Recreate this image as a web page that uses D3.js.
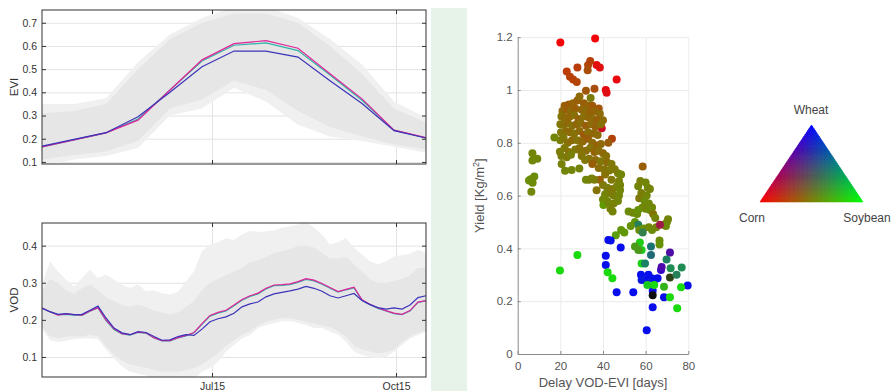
<!DOCTYPE html>
<html>
<head>
<meta charset="utf-8">
<script src="https://cdn.jsdelivr.net/npm/d3@7"></script>
<style>
  body { margin: 0; background: #fff; }
  svg { display: block; font-family: "Liberation Sans", Arial, sans-serif; }
</style>
</head>
<body>
<svg id="chart" width="893" height="391"></svg>
<script>
// ---- time axis ----
const startDate = new Date(Date.UTC(2015, 3, 21));
const endDate = new Date(Date.UTC(2015, 9, 30));
const tickDates = [new Date(Date.UTC(2015, 6, 15)), new Date(Date.UTC(2015, 9, 15))];
const tickLabels = ['Jul15', 'Oct15'];
const eviStepDays = 16;
const vodStepDays = 4;

// ---- EVI (16-day composites) ----
const eviTicks = [0.1, 0.2, 0.3, 0.4, 0.5, 0.6, 0.7];
const eviOuterHi = [0.35, 0.35, 0.375, 0.53, 0.65, 0.72, 0.77, 0.77, 0.72, 0.63, 0.52, 0.36, 0.29];
const eviOuterLo = [0.08, 0.11, 0.125, 0.16, 0.30, 0.33, 0.42, 0.36, 0.26, 0.21, 0.19, 0.165, 0.14];
const eviInnerHi = [0.31, 0.32, 0.35, 0.50, 0.63, 0.70, 0.74, 0.74, 0.70, 0.60, 0.48, 0.33, 0.27];
const eviInnerLo = [0.11, 0.13, 0.145, 0.19, 0.33, 0.37, 0.45, 0.41, 0.32, 0.25, 0.21, 0.175, 0.155];
const eviTeal    = [0.165, 0.195, 0.225, 0.285, 0.41, 0.535, 0.603, 0.613, 0.58, 0.475, 0.366, 0.237, 0.203];
const eviMagenta = [0.165, 0.195, 0.225, 0.28, 0.41, 0.54, 0.61, 0.623, 0.59, 0.48, 0.372, 0.237, 0.205];
const eviBlue    = [0.168, 0.197, 0.226, 0.295, 0.40, 0.51, 0.578, 0.578, 0.552, 0.45, 0.352, 0.235, 0.203];

// ---- VOD (every 4 days) ----
const vodTicks = [0.1, 0.2, 0.3, 0.4];
const vodOuterHi = [0.295, 0.358, 0.33, 0.308, 0.29, 0.313, 0.335, 0.313, 0.322, 0.308,
  0.295, 0.286, 0.295, 0.277, 0.28, 0.272, 0.268, 0.276, 0.304, 0.33,
  0.385, 0.403, 0.41, 0.42, 0.415, 0.43, 0.44, 0.437, 0.439, 0.441,
  0.448, 0.452, 0.457, 0.465, 0.448, 0.43, 0.403, 0.41, 0.42, 0.394,
  0.376, 0.358, 0.35, 0.358, 0.371, 0.375, 0.378, 0.389, 0.38];
const vodOuterLo = [0.175, 0.145, 0.14, 0.143, 0.148, 0.15, 0.15, 0.148, 0.12, 0.095,
  0.075, 0.06, 0.055, 0.05, 0.04, 0.04, 0.04, 0.04, 0.045, 0.04,
  0.06, 0.07, 0.087, 0.114, 0.132, 0.15, 0.159, 0.178, 0.186, 0.19,
  0.196, 0.196, 0.192, 0.186, 0.178, 0.178, 0.168, 0.16, 0.141, 0.114,
  0.105, 0.1, 0.096, 0.1, 0.114, 0.132, 0.15, 0.159, 0.168];
const vodInnerHi = [0.28, 0.31, 0.3, 0.28, 0.27, 0.285, 0.295, 0.28, 0.26, 0.25,
  0.24, 0.235, 0.24, 0.235, 0.225, 0.22, 0.215, 0.22, 0.235, 0.25,
  0.28, 0.30, 0.31, 0.32, 0.33, 0.34, 0.355, 0.36, 0.37, 0.38,
  0.385, 0.39, 0.40, 0.40, 0.395, 0.38, 0.365, 0.365, 0.37, 0.35,
  0.33, 0.31, 0.30, 0.30, 0.305, 0.31, 0.32, 0.34, 0.34];
const vodInnerLo = [0.18, 0.155, 0.15, 0.155, 0.155, 0.155, 0.16, 0.155, 0.13, 0.105,
  0.09, 0.08, 0.075, 0.07, 0.065, 0.06, 0.06, 0.06, 0.065, 0.07,
  0.08, 0.095, 0.11, 0.13, 0.145, 0.16, 0.17, 0.185, 0.195, 0.2,
  0.205, 0.205, 0.2, 0.195, 0.19, 0.185, 0.18, 0.17, 0.155, 0.13,
  0.12, 0.115, 0.11, 0.113, 0.12, 0.14, 0.155, 0.165, 0.17];
const vodTeal = [0.231, 0.221, 0.214, 0.215, 0.213, 0.212, 0.223, 0.232, 0.198, 0.174,
  0.162, 0.159, 0.166, 0.164, 0.151, 0.143, 0.143, 0.151, 0.157, 0.165,
  0.188, 0.210, 0.218, 0.224, 0.238, 0.253, 0.263, 0.270, 0.283, 0.292,
  0.293, 0.295, 0.301, 0.309, 0.305, 0.296, 0.285, 0.275, 0.281, 0.286,
  0.253, 0.241, 0.231, 0.224, 0.217, 0.214, 0.224, 0.247, 0.251];
const vodMagenta = [0.232, 0.222, 0.213, 0.216, 0.214, 0.213, 0.224, 0.233, 0.200, 0.176,
  0.163, 0.160, 0.167, 0.165, 0.152, 0.144, 0.144, 0.152, 0.158, 0.166,
  0.190, 0.212, 0.220, 0.226, 0.240, 0.255, 0.265, 0.272, 0.285, 0.294,
  0.295, 0.297, 0.303, 0.311, 0.307, 0.298, 0.287, 0.276, 0.282, 0.288,
  0.254, 0.242, 0.232, 0.225, 0.218, 0.215, 0.225, 0.248, 0.252];
const vodBlue = [0.232, 0.222, 0.215, 0.217, 0.214, 0.215, 0.226, 0.237, 0.205, 0.178,
  0.165, 0.160, 0.168, 0.166, 0.155, 0.145, 0.146, 0.155, 0.160, 0.158,
  0.175, 0.195, 0.203, 0.208, 0.218, 0.235, 0.243, 0.248, 0.262, 0.270,
  0.274, 0.278, 0.283, 0.290, 0.285, 0.277, 0.265, 0.259, 0.265, 0.271,
  0.252, 0.241, 0.233, 0.229, 0.232, 0.229, 0.240, 0.260, 0.265];

// ---- scatter: delay (days), yield (kg/m2), corn, soybean, [wheat] shares ----
const delayTicks = [0, 20, 40, 60, 80];
const yieldTicks = [0, 0.2, 0.4, 0.6, 0.8, 1, 1.2];
const fields = [
  [20, 1.18, .95, .02, .03], [36.3, 1.195, .95, .02, .03], [37, 1.095, .9, .05], [38.5, 1.085, .88, .06],
  [33, 1.095, .68, .28], [34, 1.11, .7, .26], [32.8, 1.075, .66, .3], [28, 1.085, .72, .24],
  [23, 1.07, .74, .23], [24.5, 1.05, .72, .25], [26, 1.04, .72, .25], [27.7, 1.03, .7, .27],
  [46.4, 1.04, .92, .03], [41.3, 1.0, .9, .04], [41.7, 0.99, .88, .05], [36, 1.005, .66, .3],
  [32, 0.997, .62, .34], [34.2, 0.97, .48, .48], [39.4, 0.855, .8, .05], [44.2, 0.815, .7, .26], [42.5, 0.80, .6, .36],
  [6.9, 0.76, .45, .52], [9.2, 0.74, .45, .52], [6.9, 0.733, .44, .53], [7.8, 0.672, .42, .55],
  [6.1, 0.662, .42, .55], [7, 0.649, .43, .54], [5.3, 0.657, .42, .55], [6.4, 0.615, .44, .53],
  [22, 0.94, .6, .37], [24, 0.945, .62, .35], [26, 0.95, .58, .4], [28, 0.96, .6, .37], [29, 0.975, .56, .42],
  [31, 0.95, .6, .37], [33, 0.94, .58, .39], [35, 0.94, .62, .35], [38, 0.93, .64, .33],
  [21, 0.92, .56, .41], [23, 0.925, .6, .37], [25, 0.92, .55, .42], [27, 0.93, .6, .37], [30, 0.925, .57, .4],
  [32, 0.92, .55, .42], [34, 0.915, .6, .37], [36, 0.92, .58, .39], [38.5, 0.91, .55, .42],
  [20.5, 0.9, .52, .46], [22, 0.895, .55, .42], [24.5, 0.9, .57, .4], [26.5, 0.905, .53, .44], [28.5, 0.89, .58, .39],
  [31, 0.9, .54, .43], [33.5, 0.895, .57, .4], [35.5, 0.89, .55, .42], [37.5, 0.885, .6, .37], [40, 0.885, .55, .42],
  [20, 0.87, .5, .47], [21.5, 0.87, .53, .44], [23.5, 0.875, .56, .41], [25.5, 0.865, .52, .45], [27.5, 0.87, .57, .4],
  [29.5, 0.875, .54, .43], [32, 0.865, .6, .36], [34.5, 0.87, .55, .42], [36.5, 0.86, .58, .38], [39, 0.87, .53, .44],
  [20.3, 0.84, .5, .47], [22.5, 0.845, .54, .43], [24.5, 0.84, .56, .41], [26.5, 0.835, .52, .45], [29, 0.845, .55, .42],
  [31, 0.83, .62, .35], [33, 0.84, .53, .44], [35.5, 0.835, .56, .41], [37.5, 0.83, .55, .42],
  [20, 0.81, .48, .49], [21.5, 0.82, .5, .47], [23.5, 0.8, .53, .44], [25.5, 0.81, .55, .42], [28, 0.81, .52, .45],
  [30.5, 0.805, .56, .41], [33, 0.815, .6, .36], [35, 0.8, .55, .42], [37, 0.79, .58, .39], [39, 0.795, .56, .41],
  [22, 0.78, .5, .47], [24, 0.765, .52, .45], [27, 0.775, .5, .47], [29, 0.78, .53, .44], [32, 0.77, .55, .42],
  [34, 0.78, .52, .45], [36, 0.765, .58, .39], [38, 0.77, .54, .43], [40, 0.76, .56, .41], [41.5, 0.75, .53, .44],
  [20.5, 0.75, .48, .49], [23, 0.745, .5, .47], [25, 0.755, .47, .5], [30, 0.75, .5, .47], [33.5, 0.74, .52, .45],
  [36.5, 0.735, .55, .42], [39, 0.73, .5, .47], [42, 0.725, .55, .42], [44, 0.72, .5, .47],
  [35, 0.72, .6, .37], [38, 0.705, .54, .43], [40.5, 0.7, .52, .45], [43, 0.695, .5, .47], [45.5, 0.7, .5, .47],
  [47, 0.685, .48, .49], [41, 0.68, .52, .45], [44, 0.66, .5, .47], [38.5, 0.66, .6, .37], [36, 0.66, .5, .47], [33.5, 0.66, .47, .5],
  [40, 0.64, .5, .47], [42, 0.63, .48, .49], [44.5, 0.625, .5, .47], [46.5, 0.635, .47, .5], [48, 0.62, .45, .52],
  [43, 0.61, .5, .47], [41, 0.605, .46, .51], [45, 0.6, .48, .49], [47.5, 0.6, .45, .52], [42, 0.58, .45, .52],
  [45, 0.57, .47, .5], [47, 0.58, .45, .52], [43.5, 0.55, .48, .49], [44.5, 0.54, .46, .51], [40, 0.585, .44, .53],
  [48.5, 0.68, .45, .52], [47.5, 0.655, .47, .5], [48, 0.64, .46, .51],
  [17.2, 0.82, .45, .52], [19.8, 0.766, .48, .49], [20.6, 0.72, .47, .5], [22.2, 0.694, .45, .52], [25.3, 0.697, .45, .52],
  [28.9, 0.703, .46, .51], [31.6, 0.735, .5, .47], [30, 0.76, .52, .45], [32, 0.66, .45, .52], [34.7, 0.665, .47, .5],
  [37, 0.62, .52, .45], [40.2, 0.564, .38, .6], [42.5, 0.573, .45, .52],
  [52, 0.54, .42, .55], [54, 0.535, .44, .53], [56, 0.53, .42, .55], [57, 0.59, .5, .47], [58, 0.61, .48, .49],
  [56.5, 0.635, .45, .52], [57.5, 0.655, .47, .5], [58.6, 0.71, .6, .37], [60, 0.65, .45, .52], [61, 0.63, .44, .53],
  [62, 0.625, .46, .51], [60.5, 0.6, .45, .52], [59.5, 0.58, .42, .55], [61.5, 0.57, .44, .53], [63, 0.555, .45, .52],
  [62, 0.545, .42, .55], [63.5, 0.53, .52, .45], [64.5, 0.515, .45, .52], [60, 0.55, .43, .54], [58.5, 0.555, .45, .52],
  [56.5, 0.545, .4, .57], [55, 0.5, .38, .59], [56.5, 0.49, .15, .5, .35], [53, 0.485, .4, .57], [50, 0.46, .38, .6],
  [46, 0.45, .36, .62], [48.5, 0.47, .38, .59], [57, 0.47, .42, .55], [59, 0.475, .4, .57], [61.5, 0.48, .44, .53],
  [63, 0.47, .42, .55], [65, 0.48, .45, .52], [66.5, 0.43, .42, .55], [66.5, 0.415, .4, .57], [68.5, 0.49, .45, .52],
  [70, 0.5, .43, .54], [70.5, 0.51, .45, .52], [69.5, 0.485, .42, .55], [66.7, 0.49, .62, .1, .28],
  [58.6, 0.46, .2, .5, .3], [62.5, 0.407, .1, .45, .45], [62.5, 0.375, .12, .42, .46], [58.1, 0.394, .1, .8, .1],
  [57.3, 0.422, .12, .8, .08], [56.6, 0.394, .3, .6, .1], [55, 0.407, .3, .6, .1], [58.1, 0.343, .1, .82, .08],
  [59.7, 0.343, .1, .5, .4], [71.4, 0.384, .3, .05, .65],
  [42.5, 0.432, .03, .05, .92], [43.6, 0.43, .03, .05, .92], [48.3, 0.403, .03, .05, .92], [41.3, 0.372, .03, .05, .92],
  [41.3, 0.337, .03, .05, .92], [46.4, 0.234, .03, .05, .92], [54.2, 0.234, .03, .05, .92], [57.8, 0.30, .03, .05, .92],
  [58.1, 0.28, .03, .08, .89], [59.7, 0.28, .03, .1, .87], [61.3, 0.287, .03, .05, .92], [62.8, 0.287, .05, .1, .85],
  [64.4, 0.283, .03, .05, .92], [65.6, 0.287, .03, .05, .92], [63.3, 0.24, .03, .05, .92], [63.3, 0.177, .03, .05, .92],
  [68.6, 0.215, .03, .05, .92], [60.5, 0.09, .03, .05, .92], [79.7, 0.259, .03, .05, .92], [61.3, 0.3, .03, .05, .92],
  [67.2, 0.318, .2, .02, .78], [67.5, 0.33, .3, .03, .67],
  [63.3, 0.223, .05, .05, .05], [71.4, 0.29, .18, .25, .08],
  [19.8, 0.316, .1, .85, .05], [28, 0.375, .1, .85, .05], [42.2, 0.31, .1, .85, .05], [44.4, 0.287, .1, .85, .05],
  [64, 0.261, .1, .85, .05], [71.4, 0.215, .1, .85, .05], [76.6, 0.253, .1, .85, .05], [74.8, 0.173, .1, .85, .05],
  [60.8, 0.261, .1, .8, .1], [68.6, 0.255, .2, .7, .1],
  [69.8, 0.358, .12, .5, .38], [71.7, 0.325, .12, .55, .33], [76.9, 0.328, .12, .55, .33], [74.5, 0.3, .15, .5, .35]
];

// ---- triangle legend labels ----
const cropNames = ['Corn', 'Soybean', 'Wheat'];

const svg = d3.select('#chart');
const textColor = '#333';

// light green separator strip
svg.append('rect')
  .attr('x', 431).attr('y', 8).attr('width', 36).attr('height', 383)
  .attr('fill', '#e7f2e9');

function dateSeries(n, step) {
  return d3.range(n).map(i => d3.utcDay.offset(startDate, i * step));
}

function drawPanel(o) {
  const left = 42, right = 426;
  const x = d3.scaleUtc().domain([startDate, endDate]).range([left, right]);
  const y = d3.scaleLinear().domain(o.yDomain).range([o.bottom, o.top]);
  const h = o.bottom - o.top;
  const g = svg.append('g');

  svg.append('clipPath').attr('id', 'clip-' + o.name)
    .append('rect').attr('x', left).attr('y', o.top).attr('width', right - left).attr('height', h);

  // grid
  g.append('g')
    .attr('transform', `translate(${left},0)`)
    .call(d3.axisLeft(y).tickValues(o.yTicks).tickSize(-(right - left)).tickFormat(''))
    .call(a => a.select('.domain').remove())
    .selectAll('line').attr('stroke', '#e3e3e3');
  g.append('g')
    .attr('transform', `translate(0,${o.bottom})`)
    .call(d3.axisBottom(x).tickValues(tickDates).tickSize(-h).tickFormat(''))
    .call(a => a.select('.domain').remove())
    .selectAll('line').attr('stroke', '#e3e3e3');

  const plot = g.append('g').attr('clip-path', `url(#clip-${o.name})`);
  const dates = o.dates;
  const band = (hi, lo) => d3.area()
    .x((d, i) => x(dates[i]))
    .y0((d, i) => y(lo[i]))
    .y1((d, i) => y(hi[i]))(hi);

  plot.append('path').attr('d', band(o.outerHi, o.outerLo)).attr('fill', '#f0f0f0');
  plot.append('path').attr('d', band(o.innerHi, o.innerLo)).attr('fill', '#e6e6e6');

  const line = d3.line().x((d, i) => x(dates[i])).y(d => y(d));
  o.series.forEach(s => {
    plot.append('path').attr('d', line(s.values))
      .attr('fill', 'none').attr('stroke', s.color).attr('stroke-width', 1.2);
  });

  // ticks
  const tickStyle = sel => {
    sel.select('.domain').remove();
    sel.selectAll('line').attr('stroke', '#333');
    sel.selectAll('text').attr('fill', textColor).style('font-size', '10.5px').attr('font-family', null);
  };
  g.append('g').attr('transform', `translate(${left},0)`)
    .call(d3.axisLeft(y).tickValues(o.yTicks).tickSize(-4).tickPadding(5).tickFormat(d3.format('.1f')))
    .call(tickStyle);
  g.append('g').attr('transform', `translate(${right},0)`)
    .call(d3.axisRight(y).tickValues(o.yTicks).tickSize(-4).tickFormat(''))
    .call(tickStyle);
  g.append('g').attr('transform', `translate(0,${o.bottom})`)
    .call(d3.axisBottom(x).tickValues(tickDates).tickSize(-4).tickPadding(6)
      .tickFormat((d, i) => o.xLabels ? tickLabels[i] : ''))
    .call(tickStyle);
  g.append('g').attr('transform', `translate(0,${o.top})`)
    .call(d3.axisTop(x).tickValues(tickDates).tickSize(-4).tickFormat(''))
    .call(tickStyle);

  g.append('rect')
    .attr('x', left).attr('y', o.top).attr('width', right - left).attr('height', h)
    .attr('fill', 'none').attr('stroke', '#333').attr('stroke-width', 1);

  g.append('text')
    .attr('transform', `translate(18,${(o.top + o.bottom) / 2}) rotate(-90)`)
    .attr('text-anchor', 'middle')
    .attr('fill', textColor).style('font-size', '11.5px')
    .text(o.label);
}

drawPanel({
  name: 'evi', label: 'EVI', top: 10, bottom: 164, yDomain: [0.091, 0.755], yTicks: eviTicks,
  dates: dateSeries(eviMagenta.length, eviStepDays), xLabels: false,
  outerHi: eviOuterHi, outerLo: eviOuterLo, innerHi: eviInnerHi, innerLo: eviInnerLo,
  series: [
    { values: eviTeal, color: '#2db3a6' },
    { values: eviMagenta, color: '#e2249a' },
    { values: eviBlue, color: '#3c34b8' }
  ]
});

drawPanel({
  name: 'vod', label: 'VOD', top: 223, bottom: 377, yDomain: [0.046, 0.461], yTicks: vodTicks,
  dates: dateSeries(vodMagenta.length, vodStepDays), xLabels: true,
  outerHi: vodOuterHi, outerLo: vodOuterLo, innerHi: vodInnerHi, innerLo: vodInnerLo,
  series: [
    { values: vodTeal, color: '#2db3a6' },
    { values: vodMagenta, color: '#e2249a' },
    { values: vodBlue, color: '#3c34b8' }
  ]
});

// ---- scatter ----
const sx = d3.scaleLinear().domain([0, 80]).range([517.7, 688.3]);
const sy = d3.scaleLinear().domain([0, 1.2]).range([354, 37.2]);
const shareColor = (c, s, w) => d3.rgb(255 * c, 255 * s, 255 * w).toString();

const sg = svg.append('g');
sg.append('g').attr('transform', `translate(${sx(0)},0)`)
  .call(d3.axisLeft(sy).tickValues(yieldTicks.slice(1)).tickSize(-(sx(80) - sx(0))).tickFormat(''))
  .call(a => a.select('.domain').remove())
  .selectAll('line').attr('stroke', '#ebebeb');
sg.append('g').attr('transform', `translate(0,${sy(0)})`)
  .call(d3.axisBottom(sx).tickValues(delayTicks.slice(1)).tickSize(-(sy(0) - sy(1.2))).tickFormat(''))
  .call(a => a.select('.domain').remove())
  .selectAll('line').attr('stroke', '#ebebeb');

sg.selectAll('circle.field')
  .data(fields)
  .enter()
  .append('circle')
  .attr('class', 'field')
  .attr('cx', d => sx(d[0]))
  .attr('cy', d => sy(d[1]))
  .attr('r', 4)
  .attr('fill', d => shareColor(d[2], d[3], d[4] ?? Math.max(0, 1 - d[2] - d[3])));

const scatterAxis = sel => {
  sel.select('.domain').attr('stroke', '#8a8a8a');
  sel.selectAll('line').attr('stroke', '#8a8a8a');
  sel.selectAll('text').attr('fill', '#555').style('font-size', '11.5px').attr('font-family', null);
};
sg.append('g').attr('transform', `translate(${sx(0)},0)`)
  .call(d3.axisLeft(sy).tickValues(yieldTicks).tickSize(-3).tickSizeOuter(0).tickPadding(5).tickFormat(d => String(d)))
  .call(scatterAxis);
sg.append('g').attr('transform', `translate(0,${sy(0)})`)
  .call(d3.axisBottom(sx).tickValues(delayTicks).tickSize(-3).tickSizeOuter(0).tickPadding(8))
  .call(scatterAxis);

sg.append('text')
  .attr('x', (sx(0) + sx(80)) / 2).attr('y', 387)
  .attr('text-anchor', 'middle').attr('fill', '#555').style('font-size', '13px')
  .text('Delay VOD-EVI [days]');
const yl = sg.append('text')
  .attr('transform', `translate(484,${(sy(0) + sy(1.2)) / 2}) rotate(-90)`)
  .attr('text-anchor', 'middle').attr('fill', '#555').style('font-size', '13px');
yl.append('tspan').text('Yield [Kg/m');
yl.append('tspan').attr('dy', -5).style('font-size', '9px').text('2');
yl.append('tspan').attr('dy', 5).text(']');

// ---- ternary colour legend ----
const lx = d3.scaleLinear().domain([0, 1]).range([760, 863]);
const ly = d3.scaleLinear().domain([0, 1]).range([202, 125]);
const pt = (s, w) => [lx(s + w / 2), ly(w)];
const nSub = 40;
const tris = [];
for (let a = 0; a < nSub; a++) {
  for (let b = 0; a + b < nSub; b++) {
    tris.push([[a, b], [a + 1, b], [a, b + 1]]);
    if (a + b + 2 <= nSub) tris.push([[a + 1, b], [a + 1, b + 1], [a, b + 1]]);
  }
}
const lg = svg.append('g');
lg.selectAll('path')
  .data(tris)
  .enter()
  .append('path')
  .attr('d', t => 'M' + t.map(p => pt(p[0] / nSub, p[1] / nSub).join(',')).join('L') + 'Z')
  .each(function (t) {
    const s = d3.mean(t, p => p[0]) / nSub;
    const w = d3.mean(t, p => p[1]) / nSub;
    const col = shareColor(1 - s - w, s, w);
    d3.select(this).attr('fill', col).attr('stroke', col).attr('stroke-width', 0.6);
  });

lg.append('text').attr('x', 752).attr('y', 222).attr('text-anchor', 'middle')
  .attr('fill', '#444').style('font-size', '12px').text(cropNames[0]);
lg.append('text').attr('x', 867).attr('y', 222).attr('text-anchor', 'middle')
  .attr('fill', '#444').style('font-size', '12px').text(cropNames[1]);
lg.append('text').attr('x', 811).attr('y', 114).attr('text-anchor', 'middle')
  .attr('fill', '#444').style('font-size', '12px').text(cropNames[2]);
</script>
</body>
</html>
